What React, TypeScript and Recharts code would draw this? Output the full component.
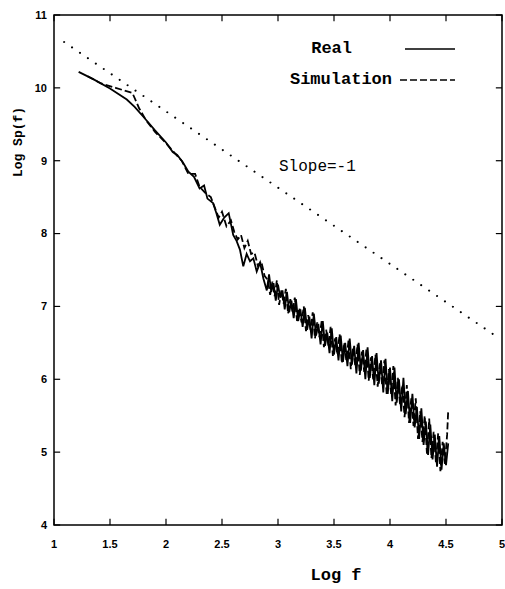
import React from 'react';
import { LineChart, Line, XAxis, YAxis, ReferenceDot, ReferenceArea, ReferenceLine, Label } from 'recharts';

const xTicks = [1, 1.5, 2, 2.5, 3, 3.5, 4, 4.5, 5];
const yTicks = [4, 5, 6, 7, 8, 9, 10, 11];

const slopeX = [1.09, 4.92];
const slopeY = [10.63, 6.62];

const realX = [
  1.22, 1.35, 1.5, 1.65, 1.72, 1.8, 1.9, 2.0, 2.06, 2.1, 2.15, 2.2, 2.25, 2.3, 2.34, 2.37, 2.42, 2.45, 2.48,
  2.52, 2.56, 2.6, 2.63, 2.66, 2.69, 2.72, 2.75, 2.78, 2.81, 2.84, 2.87,
  2.9, 2.92, 2.94, 2.96, 2.98, 3.0, 3.02, 3.04, 3.06, 3.08, 3.1, 3.12, 3.14, 3.16, 3.18, 3.2, 3.22, 3.24,
  3.26, 3.28, 3.3, 3.32, 3.34, 3.36, 3.38, 3.4, 3.42, 3.44, 3.46, 3.48, 3.5, 3.52, 3.54, 3.56, 3.58, 3.6,
  3.62, 3.64, 3.66, 3.68, 3.7, 3.72, 3.74, 3.76, 3.78, 3.8, 3.82, 3.84, 3.86, 3.88, 3.9, 3.92, 3.94, 3.96,
  3.98, 4.0, 4.02, 4.04, 4.06, 4.08, 4.1, 4.12, 4.14, 4.16, 4.18, 4.2, 4.22, 4.24, 4.26, 4.28, 4.3, 4.32,
  4.34, 4.36, 4.38, 4.4, 4.42, 4.44, 4.46, 4.48, 4.5, 4.52,
];
const realY = [
  10.22, 10.12, 9.99, 9.84, 9.74, 9.6, 9.42, 9.25, 9.12, 9.08, 8.98, 8.85, 8.78, 8.62, 8.66, 8.48, 8.42, 8.28, 8.12,
  8.22, 8.28, 7.98, 7.9, 7.78, 7.55, 7.72, 7.62, 7.66, 7.48, 7.6, 7.38,
  7.22, 7.44, 7.2, 7.32, 7.08, 7.3, 7.12, 7.22, 6.96, 7.2, 6.92, 7.08, 6.84, 7.1, 6.8, 6.96, 6.72, 6.98,
  6.68, 6.86, 6.56, 6.9, 6.6, 6.76, 6.48, 6.8, 6.46, 6.64, 6.36, 6.7, 6.34, 6.58, 6.26, 6.6, 6.24, 6.5,
  6.18, 6.56, 6.2, 6.46, 6.08, 6.5, 6.12, 6.4, 6.0, 6.44, 6.02, 6.32, 5.92, 6.36, 5.94, 6.26, 5.82, 6.28,
  5.8, 6.16, 5.7, 6.16, 5.68, 6.0, 5.56, 6.02, 5.52, 5.84, 5.4, 5.8, 5.34, 5.62, 5.18, 5.6, 5.1, 5.42,
  4.96, 5.38, 4.9, 5.24, 4.8, 5.22, 4.76, 5.12, 4.82, 5.12,
];

const simX = [
  1.3, 1.42, 1.55, 1.7, 1.76, 1.82, 1.9, 2.0, 2.08, 2.14, 2.2, 2.26, 2.3, 2.35, 2.4, 2.44, 2.47, 2.5, 2.54,
  2.58, 2.61, 2.64, 2.67, 2.7, 2.73, 2.76, 2.79, 2.82, 2.85, 2.88,
  2.91, 2.93, 2.95, 2.97, 2.99, 3.01, 3.03, 3.05, 3.07, 3.09, 3.11, 3.13, 3.15, 3.17, 3.19, 3.21, 3.23, 3.25,
  3.27, 3.29, 3.31, 3.33, 3.35, 3.37, 3.39, 3.41, 3.43, 3.45, 3.47, 3.49, 3.51, 3.53, 3.55, 3.57, 3.59, 3.61,
  3.63, 3.65, 3.67, 3.69, 3.71, 3.73, 3.75, 3.77, 3.79, 3.81, 3.83, 3.85, 3.87, 3.89, 3.91, 3.93, 3.95, 3.97,
  3.99, 4.01, 4.03, 4.05, 4.07, 4.09, 4.11, 4.13, 4.15, 4.17, 4.19, 4.21, 4.23, 4.25, 4.27, 4.29, 4.31, 4.33,
  4.35, 4.37, 4.39, 4.41, 4.43, 4.45, 4.47, 4.49, 4.51, 4.52,
];
const simY = [
  10.16, 10.06, 10.0, 9.93, 9.72, 9.56, 9.4, 9.24, 9.1, 9.0, 8.82, 8.82, 8.64, 8.56, 8.5, 8.34, 8.22, 8.3, 8.1,
  8.18, 8.02, 7.92, 7.98, 7.8, 7.9, 7.72, 7.74, 7.56, 7.62, 7.42,
  7.36, 7.16, 7.34, 7.14, 7.36, 7.02, 7.22, 7.04, 7.24, 6.9, 7.1, 6.92, 7.12, 6.8, 6.98, 6.78, 7.0, 6.66,
  6.88, 6.68, 6.92, 6.56, 6.78, 6.58, 6.8, 6.44, 6.68, 6.46, 6.72, 6.32, 6.56, 6.34, 6.62, 6.22, 6.5, 6.26,
  6.54, 6.14, 6.44, 6.18, 6.48, 6.06, 6.38, 6.1, 6.42, 5.98, 6.3, 6.0, 6.34, 5.9, 6.22, 5.92, 6.26, 5.8,
  6.14, 5.8, 6.18, 5.64, 6.02, 5.64, 5.92, 5.48, 5.92, 5.4, 5.74, 5.36, 5.74, 5.18, 5.56, 5.14, 5.5, 4.98,
  5.46, 4.92, 5.28, 4.86, 5.26, 4.74, 5.14, 4.84, 5.24, 5.58,
];

const slopeData = slopeX.map((x, i) => ({ x, y: slopeY[i] }));
const realData = realX.map((x, i) => ({ x, y: realY[i] }));
const simData = simX.map((x, i) => ({ x, y: simY[i] }));

const tickStyle = { fill: '#000', fontSize: 11, fontWeight: 'bold', fontFamily: 'Liberation Sans, Arial, sans-serif' };
const mono = 'Liberation Mono, DejaVu Sans Mono, monospace';

const X_MIN = 1;
const X_MAX = 5;
const Y_MIN = 4;
const Y_MAX = 11;
const TX = 0.055; // tick length in x units
const TY = 0.085; // tick length in y units

export default function App() {
  return (
    <div style={{ position: 'absolute', left: 0, top: 0, width: 505, height: 589, background: '#fff' }}>
      <LineChart width={505} height={589} margin={{ top: 15, right: 3, bottom: 0, left: 0 }}>
        <XAxis
          xAxisId="b"
          type="number"
          dataKey="x"
          domain={[X_MIN, X_MAX]}
          ticks={xTicks}
          interval={0}
          allowDataOverflow
          height={64}
          tickSize={0}
          tickMargin={15}
          axisLine={false}
          tickLine={false}
          tick={tickStyle}
        >
          <Label
            content={() => (
              <text x={336} y={580} textAnchor="middle" fontFamily={mono} fontWeight="bold" fontSize={17} fill="#000">
                Log f
              </text>
            )}
          />
        </XAxis>
        <YAxis
          yAxisId="l"
          type="number"
          domain={[Y_MIN, Y_MAX]}
          ticks={yTicks}
          interval={0}
          allowDataOverflow
          width={54}
          tickSize={0}
          tickMargin={7}
          axisLine={false}
          tickLine={false}
          tick={tickStyle}
        >
          <Label
            content={() => (
              <text
                x={18}
                y={142}
                transform="rotate(-90, 18, 142)"
                textAnchor="middle"
                dominantBaseline="central"
                fontFamily={mono}
                fontWeight="bold"
                fontSize={13}
                fill="#000"
              >
                Log Sp(f)
              </text>
            )}
          />
        </YAxis>
        <ReferenceArea
          xAxisId="b"
          yAxisId="l"
          x1={X_MIN}
          x2={X_MAX}
          y1={Y_MIN}
          y2={Y_MAX}
          fill="none"
          fillOpacity={0}
          stroke="#000"
          strokeWidth={1.5}
          ifOverflow="visible"
        />
        {xTicks.map((t) => (
          <ReferenceLine
            key={'xb' + t}
            xAxisId="b"
            yAxisId="l"
            segment={[{ x: t, y: Y_MIN }, { x: t, y: Y_MIN + TY }]}
            stroke="#000"
            strokeWidth={1.2}
            ifOverflow="visible"
          />
        ))}
        {xTicks.map((t) => (
          <ReferenceLine
            key={'xt' + t}
            xAxisId="b"
            yAxisId="l"
            segment={[{ x: t, y: Y_MAX }, { x: t, y: Y_MAX - TY }]}
            stroke="#000"
            strokeWidth={1.2}
            ifOverflow="visible"
          />
        ))}
        {yTicks.map((t) => (
          <ReferenceLine
            key={'yl' + t}
            xAxisId="b"
            yAxisId="l"
            segment={[{ x: X_MIN, y: t }, { x: X_MIN + TX, y: t }]}
            stroke="#000"
            strokeWidth={1.2}
            ifOverflow="visible"
          />
        ))}
        {yTicks.map((t) => (
          <ReferenceLine
            key={'yr' + t}
            xAxisId="b"
            yAxisId="l"
            segment={[{ x: X_MAX, y: t }, { x: X_MAX - TX, y: t }]}
            stroke="#000"
            strokeWidth={1.2}
            ifOverflow="visible"
          />
        ))}
        <Line
          xAxisId="b"
          yAxisId="l"
          data={slopeData}
          dataKey="y"
          type="linear"
          stroke="#000"
          strokeWidth={2}
          strokeDasharray="0.1 9.5"
          strokeLinecap="round"
          dot={false}
          isAnimationActive={false}
        />
        <Line
          xAxisId="b"
          yAxisId="l"
          data={simData}
          dataKey="y"
          type="linear"
          stroke="#000"
          strokeWidth={1.8}
          strokeDasharray="7 3"
          dot={false}
          isAnimationActive={false}
        />
        <Line
          xAxisId="b"
          yAxisId="l"
          data={realData}
          dataKey="y"
          type="linear"
          stroke="#000"
          strokeWidth={1.8}
          dot={false}
          isAnimationActive={false}
        />
        <ReferenceDot
          xAxisId="b"
          yAxisId="l"
          x={3.0}
          y={8.93}
          r={1}
          fill="none"
          stroke="none"
          label={{ value: 'Slope=-1', position: 'right', offset: 0, fill: '#000', fontSize: 16, fontFamily: mono }}
        />
      </LineChart>
      <svg width={505} height={100} style={{ position: 'absolute', left: 0, top: 0, pointerEvents: 'none' }}>
        <text x={352} y={53} textAnchor="end" fontFamily={mono} fontWeight="bold" fontSize={17} fill="#000">
          Real
        </text>
        <line x1={405} x2={455} y1={49} y2={49} stroke="#000" strokeWidth={1.6} />
        <text x={392} y={84} textAnchor="end" fontFamily={mono} fontWeight="bold" fontSize={17} fill="#000">
          Simulation
        </text>
        <line x1={400} x2={455} y1={80} y2={80} stroke="#000" strokeWidth={1.6} strokeDasharray="7 3" />
      </svg>
    </div>
  );
}
